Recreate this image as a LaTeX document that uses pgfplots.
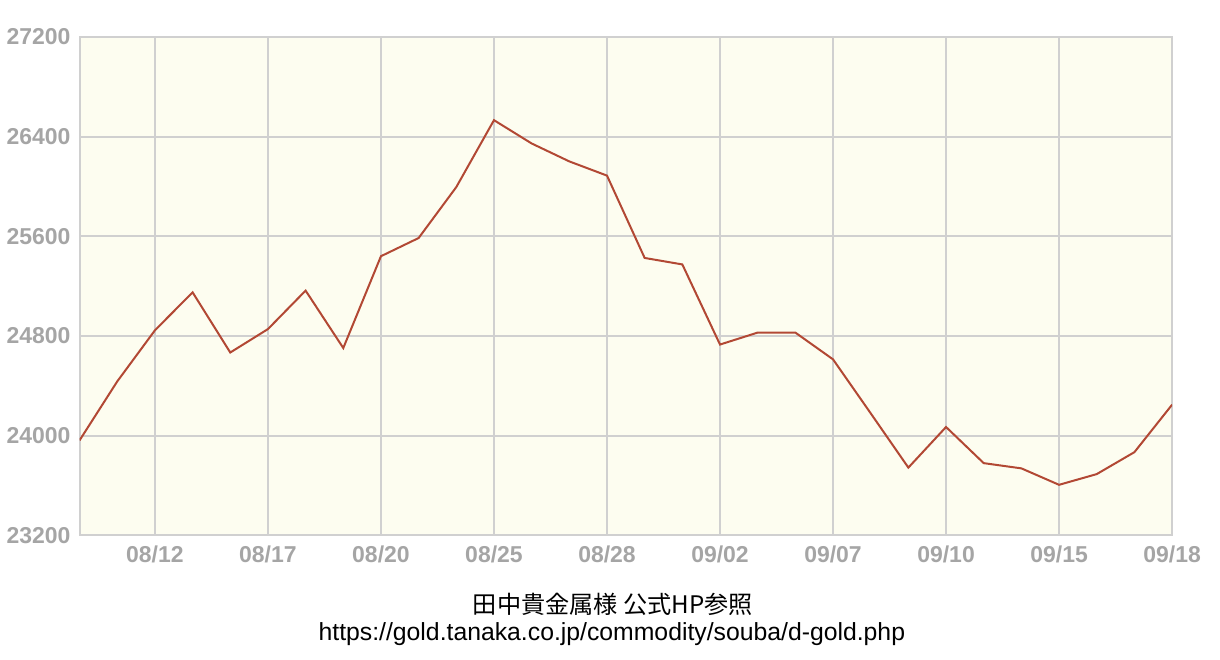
\documentclass[border=0pt]{standalone}
\usepackage{fontspec}
\setmainfont{Liberation Sans}
\newfontfamily\cjk{Noto Sans CJK JP}
\usepackage{pgfplots}
\pgfplotsset{compat=1.18}

\definecolor{plotbg}{RGB}{253,253,240}
\definecolor{gridc}{RGB}{208,208,208}
\definecolor{tickc}{RGB}{165,165,165}
\definecolor{linec}{RGB}{178,72,52}

\begin{document}
\begin{tikzpicture}
\begin{axis}[
    at={(0pt,0pt)}, anchor=south west,
    scale only axis,
    width=547pt, height=249.5pt,
    xmin=0, xmax=29,
    ymin=23200, ymax=27200,
    xtick={2,5,8,11,14,17,20,23,26,29},
    xticklabels={08/12,08/17,08/20,08/25,08/28,09/02,09/07,09/10,09/15,09/18},
    ytick={23200,24000,24800,25600,26400,27200},
    scaled y ticks=false,
    yticklabel style={/pgf/number format/1000 sep={}},
    /pgf/number format/assume math mode=true,
    ticklabel style={font=\fontsize{11.5}{12}\selectfont\bfseries, text=tickc},
    xticklabel style={yshift=-2pt},
    yticklabel style={xshift=-1pt},
    major tick length=0pt,
    grid=major,
    grid style={gridc, line width=1pt},
    axis line style={gridc, line width=1pt},
    axis background/.style={fill=plotbg},
    clip=true,
]
\addplot[linec, line width=1pt, mark=none] coordinates {
(0,23962) (1,24435) (2,24845) (3,25150) (4,24667) (5,24855)
(6,25164) (7,24703) (8,25440) (9,25586) (10,25995) (11,26532)
(12,26345) (13,26201) (14,26087) (15,25426) (16,25374) (17,24731)
(18,24827) (19,24827) (20,24612) (21,24179) (22,23743) (23,24069)
(24,23779) (25,23737) (26,23605) (27,23691) (28,23867) (29,24248)
};
\end{axis}
\path[use as bounding box] (-39pt,-62pt) rectangle (571pt,268pt);
\node[font=\cjk\fontsize{12.1}{14}\selectfont] at (267pt,-34.5pt) {田中貴金属様 公式HP参照};
\node[font=\fontsize{12.4}{14}\selectfont] at (266.5pt,-49.5pt) {https://gold.tanaka.co.jp/commodity/souba/d-gold.php};
\end{tikzpicture}
\end{document}
